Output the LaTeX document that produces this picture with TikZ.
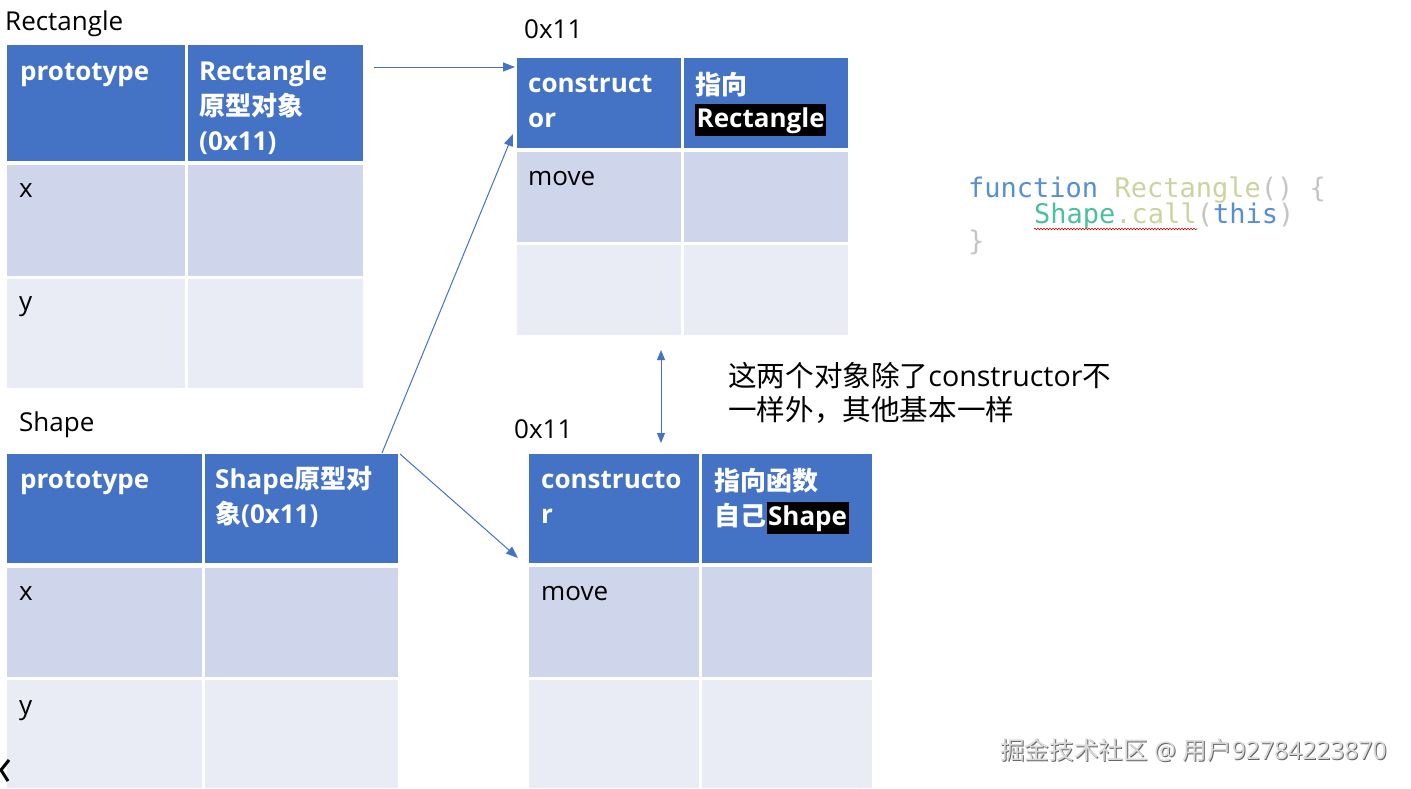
\documentclass[tikz,border=0pt]{standalone}
\usepackage{fontspec}
\setmainfont{Open Sans}
\newfontfamily\cjk{Noto Sans CJK SC}
\newfontfamily\codefont{DejaVu Sans Mono}
\usetikzlibrary{arrows.meta,decorations.pathmorphing}
\definecolor{hdr}{HTML}{4472C4}
\definecolor{rowa}{HTML}{CFD5EA}
\definecolor{rowb}{HTML}{E9EBF5}
\definecolor{kwblue}{HTML}{5690D2}
\definecolor{fnyel}{HTML}{CDD3A0}
\definecolor{punc}{HTML}{C4C4C4}
\definecolor{teal}{HTML}{4CBF9C}
\definecolor{wmgray}{HTML}{DADADA}
\newcommand\mycell[6]{\node[#1, minimum width={#4-#2}, minimum height={#5-#3}] (#6) at (#2,#3) {};}
\tikzset{
 cellbox/.style={anchor=north west, inner sep=0pt, outer sep=0pt, draw=none},
 hdrcell/.style={cellbox, fill=hdr},
 acell/.style={cellbox, fill=rowa},
 bcell/.style={cellbox, fill=rowb},
 htext/.style={anchor=base west, inner sep=0pt, text=white, font=\fontsize{26}{26}\selectfont\bfseries},
 ctext/.style={anchor=base west, inner sep=0pt, text=black, font=\fontsize{26}{26}\selectfont},
 hilite/.style={htext, fill=black, inner xsep=1.5pt, inner ysep=3pt},
 link/.style={draw=hdr, line width=1pt, -{Triangle[length=12pt,width=9pt]}},
 code/.style={anchor=base west, inner sep=0pt, font=\fontsize{27}{27}\selectfont\codefont},
}
\begin{document}
\begin{tikzpicture}[x=1pt,y=-1pt]
\useasboundingbox[fill=white] (0,0) rectangle (1411,788);
% ---------- Table 1: Rectangle
\mycell{hdrcell}{7}{45}{185}{161}{t1h1}
\mycell{hdrcell}{188}{45}{363}{161}{t1h2}
\mycell{acell}{7}{165}{185}{276}{t1a1}
\mycell{acell}{188}{165}{363}{276}{t1a2}
\mycell{bcell}{7}{279}{185}{388}{t1b1}
\mycell{bcell}{188}{279}{363}{388}{t1b2}
\node[ctext] (lrect) at (5,30) {Rectangle};
\node[htext] (t1p) at (20,80) {prototype};
\node[htext] (t1r1) at (199,80) {Rectangle};
\node[htext] (t1r2) at (199,115) {\cjk\bfseries 原型对象};
\node[htext] (t1r3) at (199,150) {(0x11)};
\node[ctext] (t1x) at (19,197) {x};
\node[ctext] (t1y) at (19,310) {y};
% ---------- Table 2: 0x11 (top)
\mycell{hdrcell}{517}{58}{681}{148}{t2h1}
\mycell{hdrcell}{684}{58}{848}{148}{t2h2}
\mycell{acell}{517}{152}{681}{242}{t2a1}
\mycell{acell}{684}{152}{848}{242}{t2a2}
\mycell{bcell}{517}{245}{681}{335}{t2b1}
\mycell{bcell}{684}{245}{848}{335}{t2b2}
\node[ctext] (l0x1) at (524,38) {0x11};
\node[htext] (t2c1) at (528,92) {construct};
\node[htext] (t2c2) at (528,127) {or};
\node[htext] (t2z1) at (695,94) {\cjk\bfseries 指向};
\node[hilite] (t2z2) at (695,127) {Rectangle};
\node[ctext] (t2m) at (528,185) {move};
% ---------- Table 3: Shape
\mycell{hdrcell}{7}{454}{202}{563}{t3h1}
\mycell{hdrcell}{205}{454}{398}{563}{t3h2}
\mycell{acell}{7}{568}{202}{677}{t3a1}
\mycell{acell}{205}{568}{398}{677}{t3a2}
\mycell{bcell}{7}{680}{202}{788}{t3b1}
\mycell{bcell}{205}{680}{398}{788}{t3b2}
\node[ctext] (lshape) at (19,431) {Shape};
\node[htext] (t3p) at (20,488) {prototype};
\node[htext] (t3s1) at (215,488) {Shape{\cjk\bfseries 原型对}};
\node[htext] (t3s2) at (215,523) {{\cjk\bfseries 象}(0x11)};
\node[ctext] (t3x) at (19,600) {x};
\node[ctext] (t3y) at (19,714) {y};
% ---------- Table 4: 0x11 (bottom)
\mycell{hdrcell}{529}{454}{699}{563}{t4h1}
\mycell{hdrcell}{702}{454}{872}{563}{t4h2}
\mycell{acell}{529}{567}{699}{677}{t4a1}
\mycell{acell}{702}{567}{872}{677}{t4a2}
\mycell{bcell}{529}{680}{699}{788}{t4b1}
\mycell{bcell}{702}{680}{872}{788}{t4b2}
\node[ctext] (l0x2) at (514,438) {0x11};
\node[htext] (t4c1) at (541,488) {constructo};
\node[htext] (t4c2) at (541,523) {r};
\node[htext] (t4z1) at (714,490) {\cjk\bfseries 指向函数};
\node[htext] (t4z2) at (714,525) {\cjk\bfseries 自己};
\node[hilite, anchor=base west] (t4z3) at (t4z2.base east) {Shape};
\node[ctext] (t4m) at (541,600) {move};
% ---------- annotation
\node[anchor=base west, inner sep=0pt, font=\fontsize{28.6}{28.6}\selectfont] (note1) at (728,386) {{\cjk 这两个对象除了}constructor{\cjk 不}};
\node[anchor=base west, inner sep=0pt, font=\fontsize{28.6}{28.6}\selectfont\cjk] (note2) at (728,420) {一样外，其他基本一样};
% ---------- code
\node[code] (cd1) at (968,197) {\textcolor{kwblue}{function} \textcolor{fnyel}{Rectangle}\textcolor{punc}{() \{}};
\node[code] (cd2) at (1034,223) {\textcolor{teal}{Shape}\textcolor{fnyel}{.call}\textcolor{punc}{(}\textcolor{kwblue}{this}\textcolor{punc}{)}};
\node[code] (cd3) at (968,250) {\textcolor{punc}{\}}};
\draw[red!80!black, line width=0.6pt, decorate, decoration={snake, amplitude=0.8pt, segment length=3pt}] (cd2.base west) ++(0,6) -- ++(163,0);
% ---------- connectors
\coordinate (a1s) at (374,67);
\coordinate (a2s) at (382,453);
\coordinate (a2e) at (513,134);
\coordinate (a3s) at (400,454);
\coordinate (a3e) at (518,558);
\coordinate (dbt) at (661,350);
\coordinate (dbb) at (661,443);
\draw[link] (a1s) -- (a1s -| t2h1.west) [shorten >=2pt];
\draw[link] (a2s) -- (a2e);
\draw[link] (a3s) -- (a3e);
\draw[draw=hdr, line width=1pt, {Triangle[length=10pt,width=8pt]}-{Triangle[length=10pt,width=8pt]}] (dbt) -- (dbb);
% ---------- watermark
\node[anchor=base west, inner sep=0pt, text=gray!80!black, font=\fontsize{24.6}{24.6}\selectfont] (wms) at (1001,760) {{\cjk 掘金技术社区} @ {\cjk 用户}92784223870};
\node[anchor=base west, inner sep=0pt, text=wmgray, font=\fontsize{24.6}{24.6}\selectfont] (wm) at (1000,759) {{\cjk 掘金技术社区} @ {\cjk 用户}92784223870};
% ---------- corner chevron
\coordinate (cv1) at (9,760);
\coordinate (cv2) at (1,770);
\coordinate (cv3) at (8,781);
\draw[black, line width=3pt] (cv1) -- (cv2) -- (cv3);
\end{tikzpicture}
\end{document}
